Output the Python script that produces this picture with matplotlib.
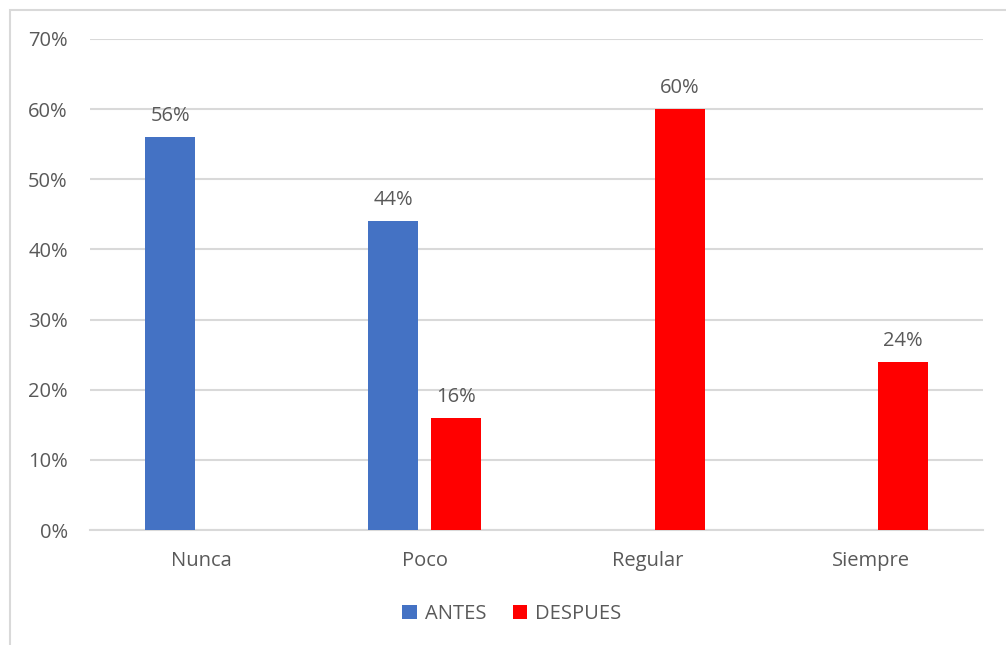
import matplotlib
matplotlib.use("Agg")
import matplotlib.pyplot as plt
from matplotlib.patches import Rectangle
from matplotlib.ticker import FuncFormatter, MultipleLocator
import numpy as np

categories = ["Nunca", "Poco", "Regular", "Siempre"]
antes = [56, 44, 0, 0]
despues = [0, 16, 60, 24]
series_names = ["ANTES", "DESPUES"]
colors = ["#4472C4", "#FF0000"]

plt.rcParams["font.family"] = ["Open Sans", "DejaVu Sans"]
text_color = "#595959"
grid_color = "#D9D9D9"
fs = 14.5

fig = plt.figure(figsize=(10.06, 6.45), dpi=100)
W, H = 1006, 645
ax = fig.add_axes([90 / W, 1 - 530 / H, (983 - 90) / W, (530 - 39) / H])

# outer chart frame
fig.patches.append(Rectangle((9.5 / W, -0.1), 1.2, 1 - 9.5 / H + 0.1,
                             transform=fig.transFigure, fill=False,
                             edgecolor=grid_color, linewidth=1.5))

x = np.arange(len(categories))
width = 0.224
offset = 0.141

for vals, name, col, sign in [(antes, series_names[0], colors[0], -1),
                              (despues, series_names[1], colors[1], 1)]:
    bars = ax.bar(x + sign * offset, vals, width, color=col, label=name, zorder=3)
    for b, v in zip(bars, vals):
        if v > 0:
            ax.annotate(f"{v}%", (b.get_x() + b.get_width() / 2, v),
                        xytext=(0, 8), textcoords="offset points",
                        ha="center", va="bottom", fontsize=fs, color=text_color)

ax.set_xlim(-0.5, len(categories) - 0.5)
ax.set_ylim(0, 70)
ax.yaxis.set_major_locator(MultipleLocator(10))
ax.yaxis.set_major_formatter(FuncFormatter(lambda v, p: f"{int(v)}%"))
ax.set_xticks(x)
ax.set_xticklabels(categories)
ax.grid(axis="y", color=grid_color, linewidth=1.5, zorder=0)
for s in ["top", "right", "left"]:
    ax.spines[s].set_visible(False)
ax.spines["bottom"].set_color(grid_color)
ax.spines["bottom"].set_linewidth(1.5)
ax.tick_params(axis="both", length=0, labelsize=fs, colors=text_color)
ax.tick_params(axis="y", pad=16)
ax.tick_params(axis="x", pad=15)

leg = fig.legend(loc="center", bbox_to_anchor=(512 / W, 1 - 614 / H), ncol=2,
                 frameon=False, fontsize=fs, handlelength=0.72, handleheight=0.72,
                 handletextpad=0.4, columnspacing=1.3)
for t in leg.get_texts():
    t.set_color(text_color)

fig.savefig("out.png", dpi=100)
